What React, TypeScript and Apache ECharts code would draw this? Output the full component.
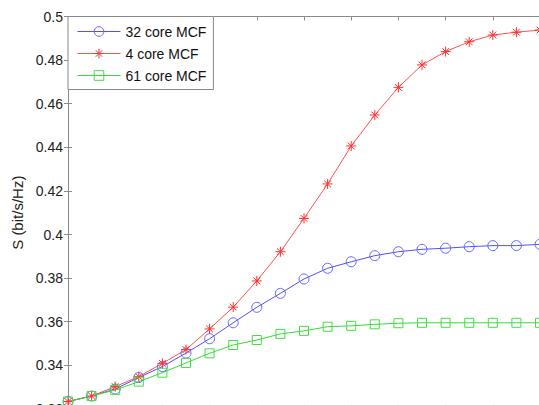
import React, { useEffect, useRef } from 'react';
import * as echarts from 'echarts';

const xIndex = [0, 1, 2, 3, 4, 5, 6, 7, 8, 9, 10, 11, 12, 13, 14, 15, 16, 17, 18, 19, 20];
const seriesNames = ['32 core MCF', '4 core MCF', '61 core MCF'];
const core32 = [0.3234, 0.3259, 0.3291, 0.3344, 0.3394, 0.3456, 0.3522, 0.3595, 0.3666, 0.3730, 0.3796, 0.3845, 0.3875, 0.3903, 0.3921, 0.3932, 0.3937, 0.3944, 0.3949, 0.3949, 0.3955];
const core4 = [0.3234, 0.3259, 0.3302, 0.3348, 0.3409, 0.3472, 0.3567, 0.3667, 0.3787, 0.3921, 0.4074, 0.4232, 0.4406, 0.4548, 0.4675, 0.4778, 0.4839, 0.4884, 0.4915, 0.4928, 0.4938];
const core61 = [0.3234, 0.3259, 0.3287, 0.3325, 0.3366, 0.3411, 0.3455, 0.3493, 0.3516, 0.3544, 0.3558, 0.3577, 0.3581, 0.3588, 0.3593, 0.3595, 0.3595, 0.3595, 0.3595, 0.3595, 0.3595];
const yLabel = 'S (bit/s/Hz)';

const FONT = 'Liberation Sans, Arial, Helvetica, sans-serif';
const AXIS_COLOR = '#8a8a8a';
const ASTERISK = 'path://M5,0L5,10M0,5L10,5M1.6,1.6L8.4,8.4M1.6,8.4L8.4,1.6';

export default function App() {
  const ref = useRef<HTMLDivElement>(null);
  useEffect(() => {
    if (!ref.current) return;
    const chart = echarts.init(ref.current, undefined, { renderer: 'svg' });
    const pairs = (arr: number[]) => xIndex.map((x, i) => [x, arr[i]]);
    const axisCommon = {
      axisLine: { show: true, lineStyle: { color: AXIS_COLOR, width: 1 } },
      axisTick: { show: true, inside: true, length: 4, lineStyle: { color: AXIS_COLOR } },
      splitLine: { show: false },
    };
    chart.setOption({
      animation: false,
      backgroundColor: '#ffffff',
      textStyle: { fontFamily: FONT },
      grid: { left: 68, top: 16.5, width: 472, height: 392.4, containLabel: false },
      legend: {
        show: true,
        orient: 'vertical',
        left: 68,
        top: 16.5,
        data: seriesNames,
        itemWidth: 43,
        itemHeight: 12,
        itemGap: 8,
        padding: [8, 7, 7, 9],
        backgroundColor: '#ffffff',
        borderColor: '#8a8a8a',
        borderWidth: 1,
        borderRadius: 0,
        lineStyle: { width: 1 },
        itemStyle: { borderWidth: 1 },
        textStyle: { fontSize: 14, color: '#111', fontFamily: FONT },
      },
      xAxis: [
        {
          type: 'value', min: 0, max: 20, interval: 2, position: 'bottom',
          ...axisCommon,
          axisLabel: { show: false },
        },
        {
          type: 'value', min: 0, max: 20, interval: 2, position: 'top',
          ...axisCommon,
          axisLabel: { show: false },
        },
      ],
      yAxis: [
        {
          type: 'value', min: 0.32, max: 0.5, interval: 0.02, position: 'left',
          ...axisCommon,
          axisLabel: {
            show: true, fontSize: 14, color: '#222', margin: 5, fontFamily: FONT,
            formatter: (v: number) => String(+v.toFixed(2)),
          },
          name: yLabel,
          nameLocation: 'middle',
          nameGap: 41,
          nameTextStyle: { fontSize: 15, color: '#222', fontFamily: FONT },
        },
        {
          type: 'value', min: 0.32, max: 0.5, interval: 0.02, position: 'right',
          ...axisCommon,
          axisLabel: { show: false },
        },
      ],
      series: [
        {
          name: seriesNames[0], type: 'line', data: pairs(core32),
          symbol: 'circle', symbolSize: 10,
          lineStyle: { color: '#5050ff', width: 1 },
          itemStyle: { color: 'rgba(255,255,255,0)', borderColor: '#6464ff', borderWidth: 1 },
          emphasis: { disabled: true },
        },
        {
          name: seriesNames[1], type: 'line', data: pairs(core4),
          symbol: ASTERISK, symbolSize: 10,
          lineStyle: { color: '#ff5050', width: 1 },
          itemStyle: { color: 'rgba(255,255,255,0)', borderColor: '#ff3030', borderWidth: 1 },
          emphasis: { disabled: true },
        },
        {
          name: seriesNames[2], type: 'line', data: pairs(core61),
          symbol: 'rect', symbolSize: 9,
          lineStyle: { color: '#33dd33', width: 1 },
          itemStyle: { color: 'rgba(255,255,255,0)', borderColor: '#44dd44', borderWidth: 1 },
          emphasis: { disabled: true },
        },
      ],
    });
    return () => chart.dispose();
  }, []);
  return (
    <div style={{ position: 'fixed', left: 0, top: 0, width: 539, height: 405, overflow: 'hidden', background: '#fff' }}>
      <div ref={ref} style={{ width: 570, height: 450 }} />
    </div>
  );
}
